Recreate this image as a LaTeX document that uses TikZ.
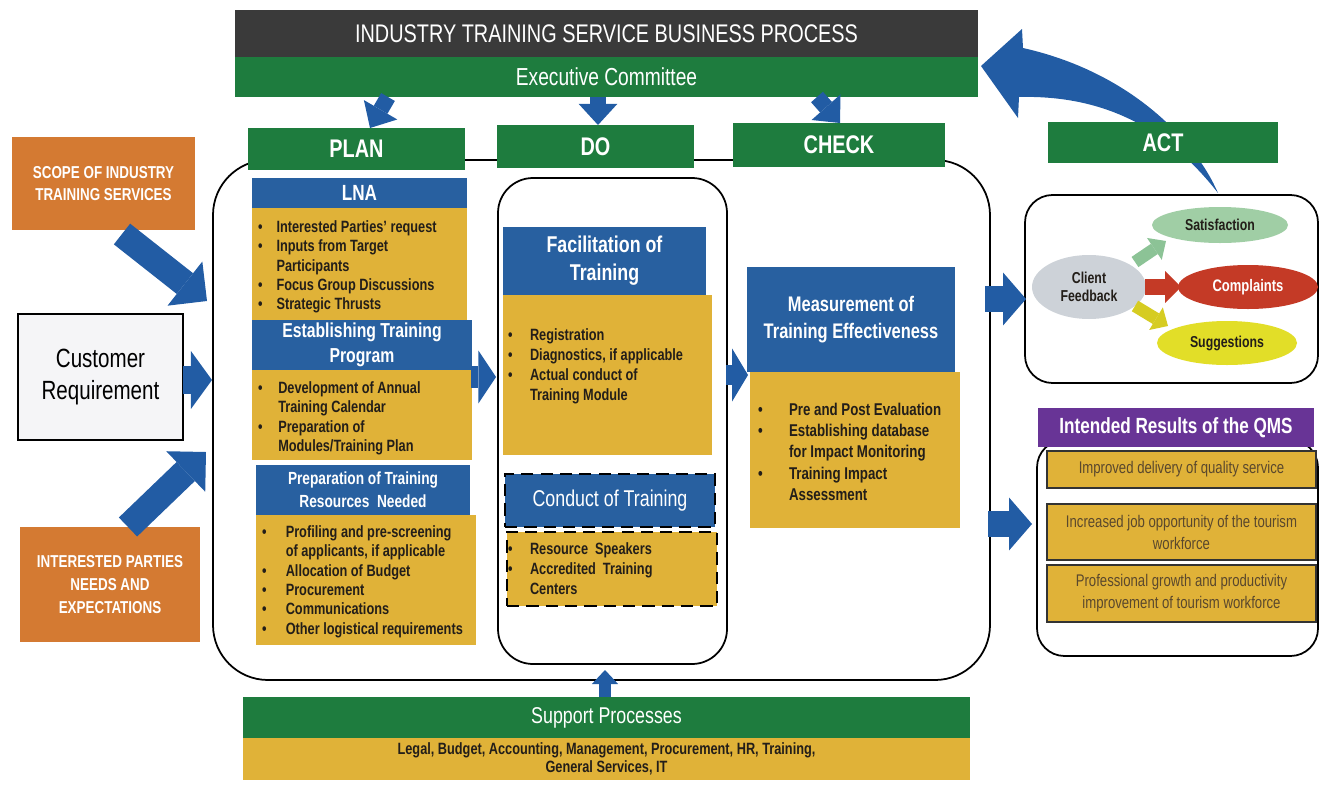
\documentclass[tikz,border=0pt]{standalone}
\usepackage{fontspec}
\setmainfont{Liberation Sans}[FakeStretch=0.78]
\usetikzlibrary{arrows.meta,shapes.geometric}

\definecolor{ttlgray}{RGB}{58,58,58}
\definecolor{grn}{RGB}{30,124,62}
\definecolor{blu}{RGB}{40,96,160}
\definecolor{gold}{RGB}{224,178,56}
\definecolor{orng}{RGB}{212,122,50}
\definecolor{purp}{RGB}{104,52,150}
\definecolor{arw}{RGB}{34,92,164}
\definecolor{txtdark}{RGB}{35,30,25}
\definecolor{txtbrown}{RGB}{90,72,45}
\definecolor{satg}{RGB}{160,206,165}
\definecolor{satarw}{RGB}{140,195,150}
\definecolor{comr}{RGB}{196,58,38}
\definecolor{sugy}{RGB}{226,222,40}
\definecolor{sugarw}{RGB}{214,204,34}
\definecolor{cfg}{RGB}{205,210,216}
\definecolor{custg}{RGB}{245,245,247}

\newcommand\fsz[2]{\fontsize{#1}{#2}\selectfont}
\newcommand\blist[2]{\begin{tabular}{@{}l@{\hspace{#1}}l@{}}#2\end{tabular}}
% box given by its corners (left, top, right, bottom) in pixel units
\newcommand\pbox[7]{\node[#6,minimum width={(#4-#2)*0.02cm},minimum height={(#5-#3)*0.02cm}] (#1) at ({(#2+#4)/2},{(#3+#5)/2}) {#7};}

\begin{document}
\begin{tikzpicture}[x=0.02cm,y=-0.02cm,
  every node/.style={inner sep=0pt,outer sep=0pt},
  fat/.style n args={4}{draw=#1,line width=#2,-{Triangle[width=#3,length=#4,line width=0pt]}},
  bar/.style={fill=grn,text=white},
  pdca/.style={fill=grn,text=white,font=\bfseries\fsz{14.5}{17}},
  hdr/.style={fill=blu,text=white,align=center,font=\bfseries\fsz{11.5}{14}},
  body/.style={fill=gold},
  src/.style={fill=orng,text=white,align=center,font=\bfseries\fsz{9.8}{13}},
  bul/.style={anchor=north west,text=txtdark,align=left,font=\bfseries\fsz{9.3}{11}},
  frame/.style={draw=black,line width=1pt},
  res/.style={fill=gold,draw=black!80,line width=0.6pt,text=txtbrown,align=center,font=\fsz{9.6}{12.5}},
  oval/.style={ellipse,align=center,font=\bfseries\fsz{9}{10}}
]
\useasboundingbox (0,0) rectangle (1319,788);

% main PDCA frame and the DO frame
\pbox{pdcaframe}{213}{160}{990}{680}{frame,rounded corners=1.1cm}{}
\pbox{doframe}{498}{178}{727}{664}{frame,rounded corners=0.7cm,fill=white}{}

% title and executive committee
\pbox{title}{235}{10}{978}{57}{fill=ttlgray,text=white,font=\fsz{14.5}{17}}{INDUSTRY TRAINING SERVICE BUSINESS PROCESS}
\pbox{exec}{235}{57}{978}{97}{bar,font=\fsz{14}{17}}{Executive Committee}

% feedback loop back to the executive committee
\fill[arw] (1218,193) .. controls (1195,140) and (1130,72) .. (1023,48) -- (1022,29) -- (981,66) -- (1018,118) -- (1019,97) .. controls (1100,95) and (1165,125) .. (1218,193) -- cycle;

% PDCA headers
\pbox{plan}{248}{128}{465}{170}{pdca}{PLAN}
\pbox{do}{497}{125}{694}{168}{pdca}{DO}
\pbox{check}{733}{123}{945}{167}{pdca}{CHECK}
\pbox{act}{1048}{122}{1278}{163}{pdca}{ACT}

\coordinate (e1a) at (388,97); \coordinate (e1b) at (370,128);
\coordinate (e2a) at (598,97); \coordinate (e2b) at (598,125);
\coordinate (e3a) at (817,97); \coordinate (e3b) at (840,123);
\draw[fat={arw}{9pt}{22pt}{12pt}] (e1a) -- (e1b);
\draw[fat={arw}{9pt}{22pt}{12pt}] (e2a) -- (e2b);
\draw[fat={arw}{9pt}{22pt}{12pt}] (e3a) -- (e3b);

% PLAN column
\pbox{lnah}{252}{178}{467}{208}{hdr,font=\bfseries\fsz{12.5}{14}}{LNA}
\pbox{lnab}{252}{208}{467}{320}{body}{}
\node[bul] (lnat) at (258,219) {\blist{8pt}{\textbullet & Interested Parties' request\\ \textbullet & Inputs from Target\\ & Participants\\ \textbullet & Focus Group Discussions\\ \textbullet & Strategic Thrusts}};

\pbox{etph}{252}{320}{472}{370}{hdr}{Establishing Training\\Program}
\pbox{etpb}{252}{370}{472}{460}{body}{}
\node[bul] (etpt) at (258,380) {\blist{9pt}{\textbullet & Development of Annual\\ & Training Calendar\\ \textbullet & Preparation of\\ & Modules/Training Plan}};

\pbox{prph}{256}{465}{470}{515}{hdr,font=\bfseries\fsz{10}{13}}{Preparation of Training\\Resources~ Needed}
\pbox{prpb}{256}{515}{476}{645}{body}{}
\node[bul] (prpt) at (262,524) {\blist{11pt}{\textbullet & Profiling and pre-screening\\ & of applicants, if applicable\\ \textbullet & Allocation of Budget\\ \textbullet & Procurement\\ \textbullet & Communications\\ \textbullet & Other logistical requirements}};

% DO column
\pbox{fach}{503}{227}{706}{295}{hdr,font=\bfseries\fsz{13}{16}}{Facilitation of\\Training}
\pbox{facb}{503}{295}{712}{455}{body}{}
\node[bul,font=\bfseries\fsz{9.3}{11.3}] (fact) at (508,327) {\blist{10pt}{\textbullet & Registration\\ \textbullet & Diagnostics, if applicable\\ \textbullet & Actual conduct of\\ & Training Module}};

\pbox{conh}{505}{474}{715}{527}{hdr,font=\fsz{13}{16},draw=black,line width=1.6pt,dash pattern=on 7pt off 4pt}{Conduct of Training}
\pbox{conb}{507}{532}{717}{606}{body,draw=black,line width=1.6pt,dash pattern=on 7pt off 4pt}{}
\node[bul,font=\bfseries\fsz{9.3}{11.3}] (cont) at (508,541) {\blist{10pt}{\textbullet & Resource~ Speakers\\ \textbullet & Accredited~ Training\\ & Centers}};

% CHECK column
\pbox{meah}{747}{267}{955}{372}{hdr,font=\bfseries\fsz{12}{15}}{Measurement of\\Training Effectiveness}
\pbox{meab}{750}{372}{960}{528}{body}{}
\node[bul,font=\bfseries\fsz{9.7}{12}] (meat) at (758,401) {\blist{15pt}{\textbullet & Pre and Post Evaluation\\ \textbullet & Establishing database\\ & for Impact Monitoring\\ \textbullet & Training Impact\\ & Assessment}};

% flow between PLAN, DO and CHECK
\coordinate (pd1) at (471,377); \coordinate (pd2) at (496,377);
\coordinate (dc1) at (726,375); \coordinate (dc2) at (748,375);
\draw[fat={arw}{13pt}{30pt}{10pt}] (pd1) -- (pd2);
\draw[fat={arw}{11pt}{30pt}{9pt}] (dc1) -- (dc2);

% inputs on the left
\pbox{scope}{12}{137}{195}{230}{src}{SCOPE OF INDUSTRY\\TRAINING SERVICES}
\pbox{cust}{18}{314}{183}{440}{fill=custg,draw=black,line width=1pt,align=center,font=\fsz{15}{18}}{Customer\\Requirement}
\pbox{ipne}{20}{527}{200}{642}{src}{INTERESTED PARTIES\\NEEDS AND\\EXPECTATIONS}

\coordinate (sc1) at (122,234); \coordinate (sc2) at (207,301);
\coordinate (cu1) at (183,380); \coordinate (cu2) at (212,380);
\coordinate (ip1) at (128,527); \coordinate (ip2) at (206,452);
\draw[fat={arw}{15pt}{32pt}{16pt}] (sc1) -- (sc2);
\draw[fat={arw}{16pt}{33pt}{12pt}] (cu1) -- (cu2);
\draw[fat={arw}{15pt}{32pt}{16pt}] (ip1) -- (ip2);

% ACT: client feedback
\pbox{actbox}{1025}{195}{1318}{383}{frame,rounded corners=0.55cm,fill=white}{}
\node[oval,fill=cfg,text=txtdark,minimum width={114*0.02cm},minimum height={64*0.02cm}] (cf) at (1089,287) {Client\\Feedback};
\node[oval,fill=satg,text=txtdark,minimum width={136*0.02cm},minimum height={36*0.02cm}] (sat) at (1220,225) {Satisfaction};
\node[oval,fill=comr,text=white,font=\bfseries\fsz{9.5}{11},minimum width={140*0.02cm},minimum height={44*0.02cm}] (com) at (1248,287) {Complaints};
\node[oval,fill=sugy,text=txtdark,minimum width={140*0.02cm},minimum height={44*0.02cm}] (sug) at (1227,343) {Suggestions};
\coordinate (g1) at (1135,262); \coordinate (g2) at (1166,241);
\coordinate (r1) at (1145,287); \coordinate (r2) at (1181,287);
\coordinate (y1) at (1135,306); \coordinate (y2) at (1168,326);
\draw[fat={satarw}{7pt}{15pt}{8pt}] (g1) -- (g2);
\draw[fat={comr}{9pt}{18pt}{9pt}] (r1) -- (r2);
\draw[fat={sugarw}{7pt}{15pt}{8pt}] (y1) -- (y2);

% intended results
\pbox{resbox}{1037}{440}{1318}{656}{frame,rounded corners=0.55cm,fill=white}{}
\pbox{resh}{1038}{408}{1314}{447}{fill=purp,text=white,font=\bfseries\fsz{12.5}{15}}{Intended Results of the QMS}
\pbox{res1}{1047}{451}{1316}{488}{res}{Improved delivery of quality service}
\pbox{res2}{1047}{504}{1316}{560}{res}{Increased job opportunity of the tourism\\workforce}
\pbox{res3}{1047}{565}{1316}{622}{res}{Professional growth and productivity\\improvement of tourism workforce}

\coordinate (ra1) at (985,299); \coordinate (ra2) at (1026,299);
\coordinate (rb1) at (988,524); \coordinate (rb2) at (1032,524);
\draw[fat={arw}{15pt}{30pt}{13pt}] (ra1) -- (ra2);
\draw[fat={arw}{15pt}{30pt}{13pt}] (rb1) -- (rb2);

% support processes
\pbox{suph}{243}{697}{970}{738}{bar,font=\fsz{13}{16}}{Support Processes}
\pbox{supb}{243}{738}{970}{780}{body,text=txtdark,align=center,font=\bfseries\fsz{9.3}{10.5}}{Legal, Budget, Accounting, Management, Procurement, HR, Training,\\General Services, IT}
\coordinate (su1) at (605,697); \coordinate (su2) at (605,670);
\draw[fat={arw}{7pt}{15pt}{8pt}] (su1) -- (su2);
\end{tikzpicture}
\end{document}
